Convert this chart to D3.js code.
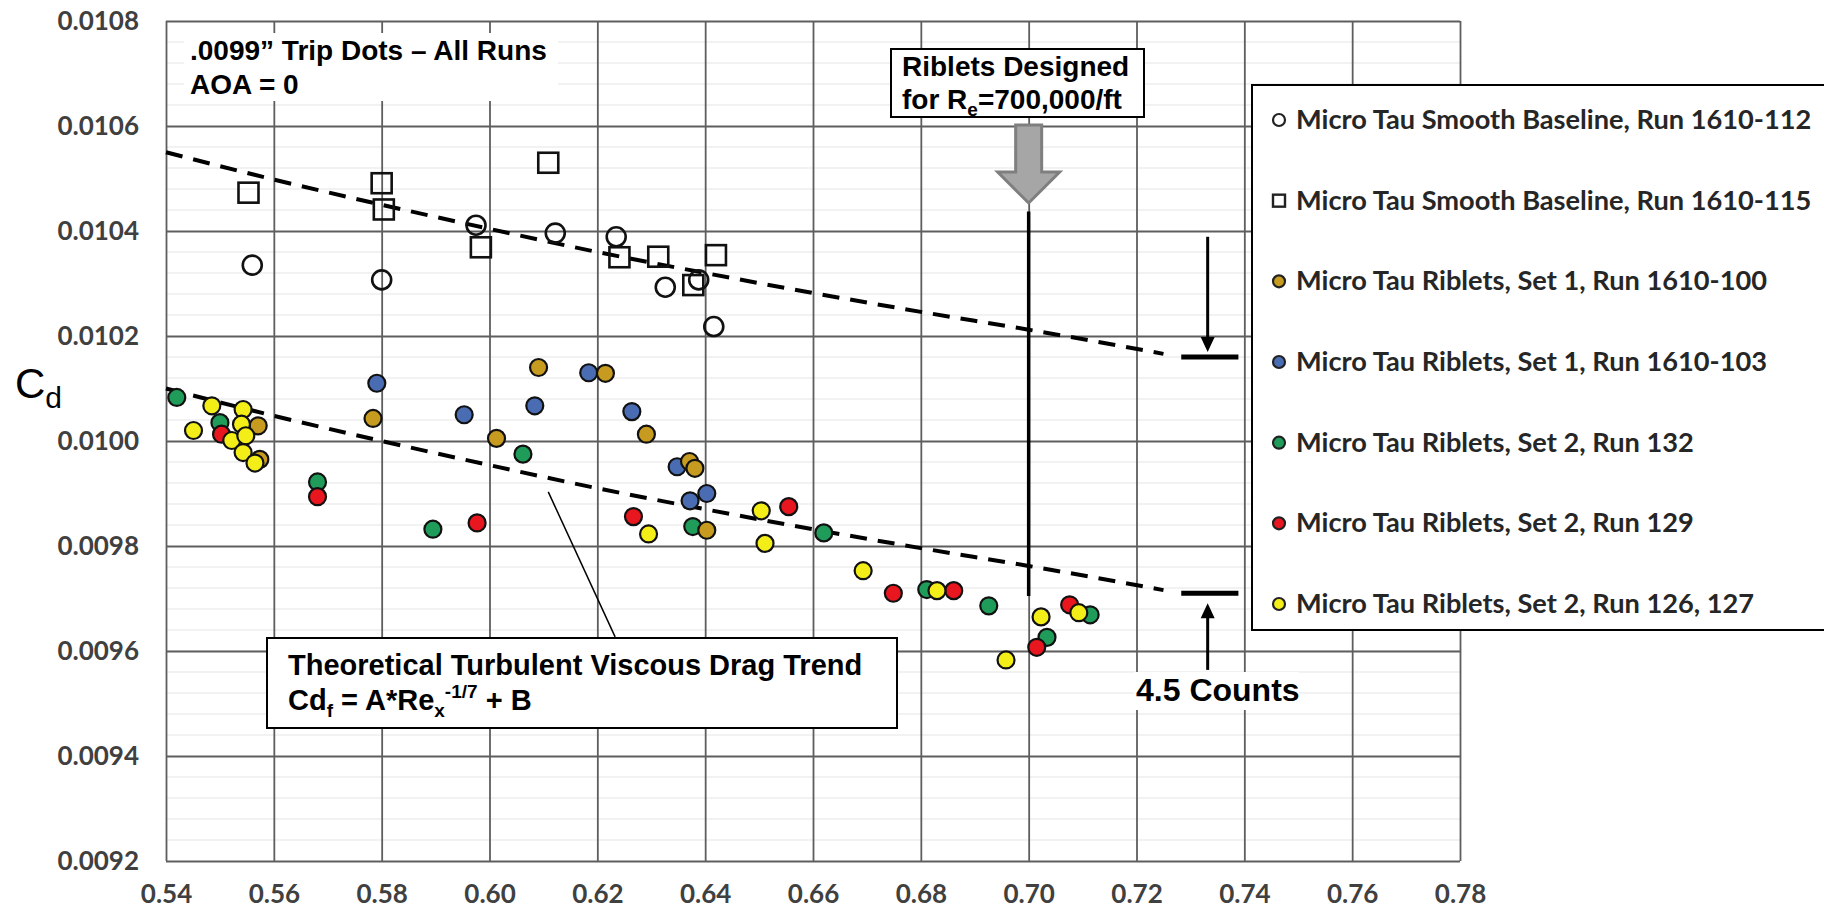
<!DOCTYPE html>
<html>
<head>
<meta charset="utf-8">
<script src="https://cdn.jsdelivr.net/npm/d3@7"></script>
<style>
  html, body { margin: 0; padding: 0; background: #fff; }
  svg { display: block; }
  .tick text { font-family: Lato, "Noto Sans", sans-serif; font-weight: 700; fill: #404040; font-size: 26px; }
  .ann { font-family: "Liberation Sans", Arial, sans-serif; font-weight: 700; fill: #000; }
  .legend text { font-family: Lato, "Noto Sans", sans-serif; font-weight: 700; fill: #262626; font-size: 27.2px; }
</style>
</head>
<body>
<svg id="chart" width="1824" height="911"></svg>
<script>
// --- Data ---
const xTicks = [0.54, 0.56, 0.58, 0.60, 0.62, 0.64, 0.66, 0.68, 0.70, 0.72, 0.74, 0.76, 0.78];
const yTicks = [0.0092, 0.0094, 0.0096, 0.0098, 0.0100, 0.0102, 0.0104, 0.0106, 0.0108];

// Micro Tau Smooth Baseline, Run 1610-112 (open circles)
const run112 = [[0.5560, 0.010335], [0.5800, 0.010307], [0.5975, 0.010411], [0.6122, 0.010396],
    [0.6235, 0.010389], [0.6326, 0.010293], [0.6388, 0.010307], [0.6416, 0.010218]];
// Micro Tau Smooth Baseline, Run 1610-115 (open squares)
const run115 = [[0.5553, 0.010473], [0.5800, 0.010491], [0.5804, 0.010441], [0.5984, 0.010369],
    [0.6109, 0.010530], [0.6241, 0.010350], [0.6313, 0.010351], [0.6378, 0.010297], [0.6420, 0.010354]];
// Riblets Set 1, Run 1610-100 (gold)
const run100 = [[0.5571, 0.010029], [0.5574, 0.009965], [0.5784, 0.010043], [0.6013, 0.010005],
    [0.6091, 0.010140], [0.6215, 0.010129], [0.6291, 0.010013], [0.6371, 0.009961], [0.6381, 0.009948],
    [0.6403, 0.009830]];
// Riblets Set 1, Run 1610-103 (blue)
const run103 = [[0.5791, 0.010110], [0.5953, 0.010050], [0.6084, 0.010067], [0.6184, 0.010130],
    [0.6264, 0.010056], [0.6348, 0.009951], [0.6372, 0.009886], [0.6403, 0.009900]];
// Riblets Set 2, Run 132 (green)
const run132 = [[0.5420, 0.010083], [0.5500, 0.010035], [0.5681, 0.009922], [0.5895, 0.009832],
    [0.6062, 0.009975], [0.6377, 0.009837], [0.6620, 0.009825], [0.6811, 0.009717], [0.6926, 0.009686],
    [0.7034, 0.009626], [0.7114, 0.009669]];
// Riblets Set 2, Run 129 (red)
const run129 = [[0.5503, 0.010013], [0.5681, 0.009894], [0.5977, 0.009844], [0.6267, 0.009856],
    [0.6555, 0.009875], [0.6749, 0.009710], [0.6861, 0.009715], [0.7015, 0.009607], [0.7076, 0.009688]];
// Riblets Set 2, Run 126, 127 (yellow)
const run126 = [[0.5451, 0.010020], [0.5485, 0.010067], [0.5522, 0.010001], [0.5543, 0.010060],
    [0.5540, 0.010032], [0.5548, 0.010010], [0.5543, 0.009978], [0.5565, 0.009958], [0.6295, 0.009823],
    [0.6504, 0.009867], [0.6511, 0.009805], [0.6693, 0.009753], [0.6830, 0.009715], [0.6958, 0.009583],
    [0.7023, 0.009665], [0.7093, 0.009673]];

// theoretical trend lines (dashed)
const trendX = [0.54, 0.56, 0.58, 0.60, 0.62, 0.64, 0.66, 0.68, 0.70, 0.725];
const smoothTrend = [0.010550, 0.010498, 0.010450, 0.010404, 0.010360, 0.010320, 0.010282, 0.010246, 0.010212, 0.010166];
const ribletTrend = [0.010100, 0.010048, 0.010000, 0.009954, 0.009910, 0.009870, 0.009832, 0.009796, 0.009762, 0.009716];

const countLevels = [0.010160, 0.009710]; // the two "4.5 counts" bars

const legendLabels = [
    "Micro Tau Smooth Baseline, Run 1610-112",
    "Micro Tau Smooth Baseline, Run 1610-115",
    "Micro Tau Riblets, Set 1, Run 1610-100",
    "Micro Tau Riblets, Set 1, Run 1610-103",
    "Micro Tau Riblets, Set 2, Run 132",
    "Micro Tau Riblets, Set 2, Run 129",
    "Micro Tau Riblets, Set 2, Run 126, 127"
];

const series = [
    { data: run112, shape: "circleOpen", fill: "none", legend: 0 },
    { data: run115, shape: "square", fill: "none", legend: 1 },
    { data: run103, shape: "circle", fill: "#4a6cb2", legend: 3 },
    { data: run132, shape: "circle", fill: "#1f9c5a", legend: 4 },
    { data: run129, shape: "circle", fill: "#e8161e", legend: 5 },
    { data: run100, shape: "circle", fill: "#c69b1f", legend: 2 },
    { data: run126, shape: "circle", fill: "#f4ee18", legend: 6 }
];

// --- Layout ---
const svg = d3.select("#chart");
const plot = { left: 166, right: 1460, top: 21, bottom: 861 };
const width = plot.right - plot.left;
const height = plot.bottom - plot.top;

const x = d3.scaleLinear().domain([0.54, 0.78]).range([plot.left, plot.right]);
const y = d3.scaleLinear().domain([0.0092, 0.0108]).range([plot.bottom, plot.top]);

// faint minor grid
const minor = d3.range(0.0092, 0.0108, 0.00004).filter(v => Math.abs(v * 10000 % 2) > 0.01);
svg.append("g").selectAll("line").data(minor).enter().append("line")
    .attr("x1", plot.left).attr("x2", plot.right)
    .attr("y1", d => y(d)).attr("y2", d => y(d))
    .attr("stroke", "#eeeeee").attr("stroke-width", 1.5);

// major grid + ticks
const gx = svg.append("g").attr("transform", `translate(0,${plot.bottom})`)
    .call(d3.axisBottom(x).tickValues(xTicks).tickSize(-height).tickPadding(24).tickFormat(d3.format(".2f")));
const gy = svg.append("g").attr("transform", `translate(${plot.left},0)`)
    .call(d3.axisLeft(y).tickValues(yTicks).tickSize(-width).tickPadding(27).tickFormat(d3.format(".4f")));
[gx, gy].forEach(g => {
    g.select(".domain").remove();
    g.selectAll(".tick line").attr("stroke", "#5e5e5e").attr("stroke-width", 1.8);
});

// Cd label
const cd = svg.append("text").attr("x", 15).attr("y", 398)
    .style("font-family", "'Liberation Sans', Arial, sans-serif").style("font-size", "42px").attr("fill", "#000");
cd.append("tspan").text("C");
cd.append("tspan").attr("dy", 10).style("font-size", "30px").text("d");

// title block
svg.append("rect").attr("x", 184).attr("y", 33).attr("width", 374).attr("height", 68).attr("fill", "#fff");
svg.append("text").attr("class", "ann").attr("x", 190).attr("y", 60).style("font-size", "28px")
    .text(".0099\u201D Trip Dots \u2013 All Runs");
svg.append("text").attr("class", "ann").attr("x", 190).attr("y", 94).style("font-size", "28px").text("AOA = 0");

// trend lines
const trendLine = d3.line().x((d, i) => x(trendX[i])).y(d => y(d)).curve(d3.curveMonotoneX);
[smoothTrend, ribletTrend].forEach(t => {
    svg.append("path").attr("d", trendLine(t)).attr("fill", "none")
        .attr("stroke", "#000").attr("stroke-width", 4).attr("stroke-dasharray", "17,11");
});

// vertical line at design Re
svg.append("line").attr("x1", x(0.70)).attr("x2", x(0.70))
    .attr("y1", y(0.010437)).attr("y2", y(0.009705))
    .attr("stroke", "#000").attr("stroke-width", 3.5);

// leader to theory box
svg.append("line").attr("x1", x(0.6109)).attr("y1", y(0.009903)).attr("x2", x(0.6233)).attr("y2", y(0.009627))
    .attr("stroke", "#000").attr("stroke-width", 1.5);

// --- markers ---
series.forEach(s => {
    const g = svg.append("g");
    if (s.shape === "square") {
        g.selectAll("rect").data(s.data).enter().append("rect")
            .attr("x", d => x(d[0]) - 10).attr("y", d => y(d[1]) - 10)
            .attr("width", 20).attr("height", 20)
            .attr("fill", "none").attr("stroke", "#111").attr("stroke-width", 2.6);
    } else {
        const open = s.shape === "circleOpen";
        g.selectAll("circle").data(s.data).enter().append("circle")
            .attr("cx", d => x(d[0])).attr("cy", d => y(d[1]))
            .attr("r", open ? 9.5 : 8.5)
            .attr("fill", s.fill).attr("stroke", "#111").attr("stroke-width", open ? 2.6 : 2.2);
    }
});

// count bars and arrows
const barX0 = x(0.7283), barX1 = x(0.7389), arrowX = x(0.7332);
countLevels.forEach(v => {
    svg.append("line").attr("x1", barX0).attr("x2", barX1).attr("y1", y(v)).attr("y2", y(v))
        .attr("stroke", "#000").attr("stroke-width", 5);
});
const upTip = y(countLevels[0]) - 5, downTip = y(countLevels[1]) + 10;
svg.append("line").attr("x1", arrowX).attr("x2", arrowX).attr("y1", y(0.010389)).attr("y2", upTip - 10)
    .attr("stroke", "#000").attr("stroke-width", 3);
svg.append("path").attr("d", `M${arrowX - 7},${upTip - 15}L${arrowX + 7},${upTip - 15}L${arrowX},${upTip}Z`).attr("fill", "#000");
svg.append("line").attr("x1", arrowX).attr("x2", arrowX).attr("y1", y(0.009564)).attr("y2", downTip + 10)
    .attr("stroke", "#000").attr("stroke-width", 3);
svg.append("path").attr("d", `M${arrowX - 7},${downTip + 15}L${arrowX + 7},${downTip + 15}L${arrowX},${downTip}Z`).attr("fill", "#000");

svg.append("rect").attr("x", 1134).attr("y", 672).attr("width", 165).attr("height", 38).attr("fill", "#fff");
svg.append("text").attr("class", "ann").attr("x", 1136).attr("y", 701).style("font-size", "32px").text("4.5 Counts");

// riblets designed box + gray arrow
svg.append("rect").attr("x", 891).attr("y", 49).attr("width", 253).attr("height", 68)
    .attr("fill", "#fff").attr("stroke", "#000").attr("stroke-width", 2);
svg.append("text").attr("class", "ann").attr("x", 902).attr("y", 76).style("font-size", "28px").text("Riblets Designed");
const rb = svg.append("text").attr("class", "ann").attr("x", 902).attr("y", 109).style("font-size", "28px");
rb.append("tspan").text("for R");
rb.append("tspan").attr("dy", 7).style("font-size", "19px").text("e");
rb.append("tspan").attr("dy", -7).text("=700,000/ft");

const ax = x(0.70);
svg.append("path")
    .attr("d", `M${ax - 13},125L${ax + 13},125L${ax + 13},172L${ax + 31},172L${ax},203L${ax - 31},172L${ax - 13},172Z`)
    .attr("fill", "#a6a6a6").attr("stroke", "#7f7f7f").attr("stroke-width", 3);

// theory box
svg.append("rect").attr("x", 267).attr("y", 638).attr("width", 630).attr("height", 90)
    .attr("fill", "#fff").attr("stroke", "#000").attr("stroke-width", 2);
svg.append("text").attr("class", "ann").attr("x", 288).attr("y", 675).style("font-size", "29px")
    .text("Theoretical Turbulent Viscous Drag Trend");
const th = svg.append("text").attr("class", "ann").attr("x", 288).attr("y", 710).style("font-size", "29px");
th.append("tspan").text("Cd");
th.append("tspan").attr("dy", 7).style("font-size", "19px").text("f");
th.append("tspan").attr("dy", -7).text(" = A*Re");
th.append("tspan").attr("dy", 7).style("font-size", "19px").text("x");
th.append("tspan").attr("dy", -19).style("font-size", "19px").text("-1/7");
th.append("tspan").attr("dy", 12).text(" + B");

// --- legend ---
const legend = svg.append("g").attr("class", "legend");
legend.append("rect").attr("x", 1252).attr("y", 85).attr("width", 600).attr("height", 545)
    .attr("fill", "#fff").attr("stroke", "#000").attr("stroke-width", 2);
const rowY = i => 120 + i * 80.67;
series.forEach(s => {
    const cy = rowY(s.legend);
    if (s.shape === "square") {
        legend.append("rect").attr("x", 1273).attr("y", cy - 6).attr("width", 12).attr("height", 12)
            .attr("fill", "none").attr("stroke", "#222").attr("stroke-width", 2.4);
    } else {
        legend.append("circle").attr("cx", 1279).attr("cy", cy).attr("r", 6)
            .attr("fill", s.fill).attr("stroke", "#222").attr("stroke-width", 2.2);
    }
    legend.append("text").attr("x", 1296).attr("y", cy + 9).text(legendLabels[s.legend]);
});
</script>
</body>
</html>
